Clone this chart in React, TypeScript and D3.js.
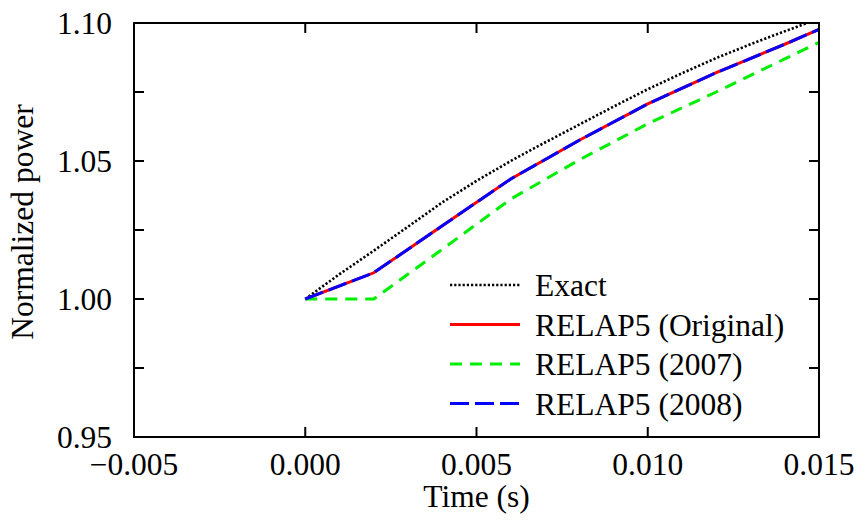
import React from "react";
import * as d3 from "d3";

const exactTime = [0, 0.001, 0.002, 0.003, 0.004, 0.005, 0.006, 0.007, 0.008, 0.009, 0.010, 0.011, 0.012, 0.013, 0.014, 0.015];
const exactPower = [1.0, 1.009, 1.0175, 1.0262, 1.035, 1.0428, 1.05, 1.0567, 1.0632, 1.0697, 1.076, 1.0818, 1.0873, 1.0923, 1.097, 1.1016];

const relapTime = [0, 0.002, 0.004, 0.006, 0.008, 0.010, 0.012, 0.014, 0.015];
const originalPower = [1.0, 1.0095, 1.0265, 1.0435, 1.0575, 1.0707, 1.082, 1.0923, 1.0977];
const power2007 = [1.0, 1.0, 1.018, 1.0362, 1.0504, 1.0635, 1.075, 1.087, 1.093];
const power2008 = [1.0, 1.0095, 1.0265, 1.0435, 1.0575, 1.0707, 1.082, 1.0923, 1.0977];

const xTicks = [-0.005, 0.0, 0.005, 0.01, 0.015];
const yTicks = [0.95, 0.975, 1.0, 1.025, 1.05, 1.075, 1.1];
const yLabelTicks = [0.95, 1.0, 1.05, 1.1];

const seriesNames = ["Exact", "RELAP5 (Original)", "RELAP5 (2007)", "RELAP5 (2008)"];

const W = 859;
const H = 523;
const M = { left: 134, right: 819, top: 23, bottom: 437 };
const FONT = "'Liberation Serif', 'Times New Roman', serif";
const FS = 31.5;

export default function App() {
  const x = d3.scaleLinear().domain([-0.005, 0.015]).range([M.left, M.right]);
  const y = d3.scaleLinear().domain([0.95, 1.1]).range([M.bottom, M.top]);
  const line = d3
    .line<[number, number]>()
    .x((d) => x(d[0]))
    .y((d) => y(d[1]));
  const zip = (t: number[], v: number[]) => t.map((tt, i) => [tt, v[i]] as [number, number]);

  const series = [
    { name: seriesNames[0], d: line(zip(exactTime, exactPower)), color: "#000000", dash: "2.2,2", w: 2.6 },
    { name: seriesNames[1], d: line(zip(relapTime, originalPower)), color: "#ff0000", dash: "", w: 3 },
    { name: seriesNames[2], d: line(zip(relapTime, power2007)), color: "#00ee00", dash: "12,8", w: 3 },
    { name: seriesNames[3], d: line(zip(relapTime, power2008)), color: "#0000ff", dash: "19,6", w: 3 },
  ];

  const tickLen = 10;
  const legendX0 = 450;
  const legendX1 = 520;
  const legendY0 = 285;
  const legendDy = 39.5;

  return (
    <svg width={W} height={H} style={{ position: "absolute", left: 0, top: 0, background: "#fff" }}>
      <defs>
        <clipPath id="plotclip">
          <rect x={M.left} y={M.top} width={M.right - M.left} height={M.bottom - M.top} />
        </clipPath>
      </defs>
      <rect x={0} y={0} width={W} height={H} fill="#fff" />
      {xTicks.map((t) => (
        <g key={"xt" + t}>
          <line x1={x(t)} x2={x(t)} y1={M.bottom} y2={M.bottom - tickLen} stroke="#000" strokeWidth={2} />
          <line x1={x(t)} x2={x(t)} y1={M.top} y2={M.top + tickLen} stroke="#000" strokeWidth={2} />
          <text x={x(t)} y={475} textAnchor="middle" fontFamily={FONT} fontSize={FS} fill="#000">
            {d3.format(".3f")(t).replace("-", "\u2212")}
          </text>
        </g>
      ))}
      {yTicks.map((t) => (
        <g key={"yt" + t}>
          <line x1={M.left} x2={M.left + tickLen} y1={y(t)} y2={y(t)} stroke="#000" strokeWidth={2} />
          <line x1={M.right} x2={M.right - tickLen} y1={y(t)} y2={y(t)} stroke="#000" strokeWidth={2} />
        </g>
      ))}
      {yLabelTicks.map((t) => (
        <text key={"yl" + t} x={112} y={y(t)} dy="0.35em" textAnchor="end" fontFamily={FONT} fontSize={FS} fill="#000">
          {d3.format(".2f")(t)}
        </text>
      ))}
      <g clipPath="url(#plotclip)">
        {series.map((s) => (
          <path key={s.name} d={s.d || ""} fill="none" stroke={s.color} strokeWidth={s.w} strokeDasharray={s.dash || undefined} />
        ))}
      </g>
      {series.map((s, i) => (
        <g key={"lg" + s.name}>
          <line
            x1={legendX0}
            x2={legendX1}
            y1={legendY0 + i * legendDy}
            y2={legendY0 + i * legendDy}
            stroke={s.color}
            strokeWidth={s.w}
            strokeDasharray={s.dash || undefined}
          />
          <text x={535} y={legendY0 + i * legendDy} dy="0.35em" fontFamily={FONT} fontSize={FS} fill="#000">
            {s.name}
          </text>
        </g>
      ))}
      <rect x={M.left} y={M.top} width={M.right - M.left} height={M.bottom - M.top} fill="none" stroke="#000" strokeWidth={2} />
      <text x={(M.left + M.right) / 2} y={507} textAnchor="middle" fontFamily={FONT} fontSize={FS} fill="#000">
        Time (s)
      </text>
      <text
        transform={`translate(33, ${(M.top + M.bottom) / 2 - 8}) rotate(-90)`}
        textAnchor="middle"
        fontFamily={FONT}
        fontSize={FS}
        fill="#000"
      >
        Normalized power
      </text>
    </svg>
  );
}
